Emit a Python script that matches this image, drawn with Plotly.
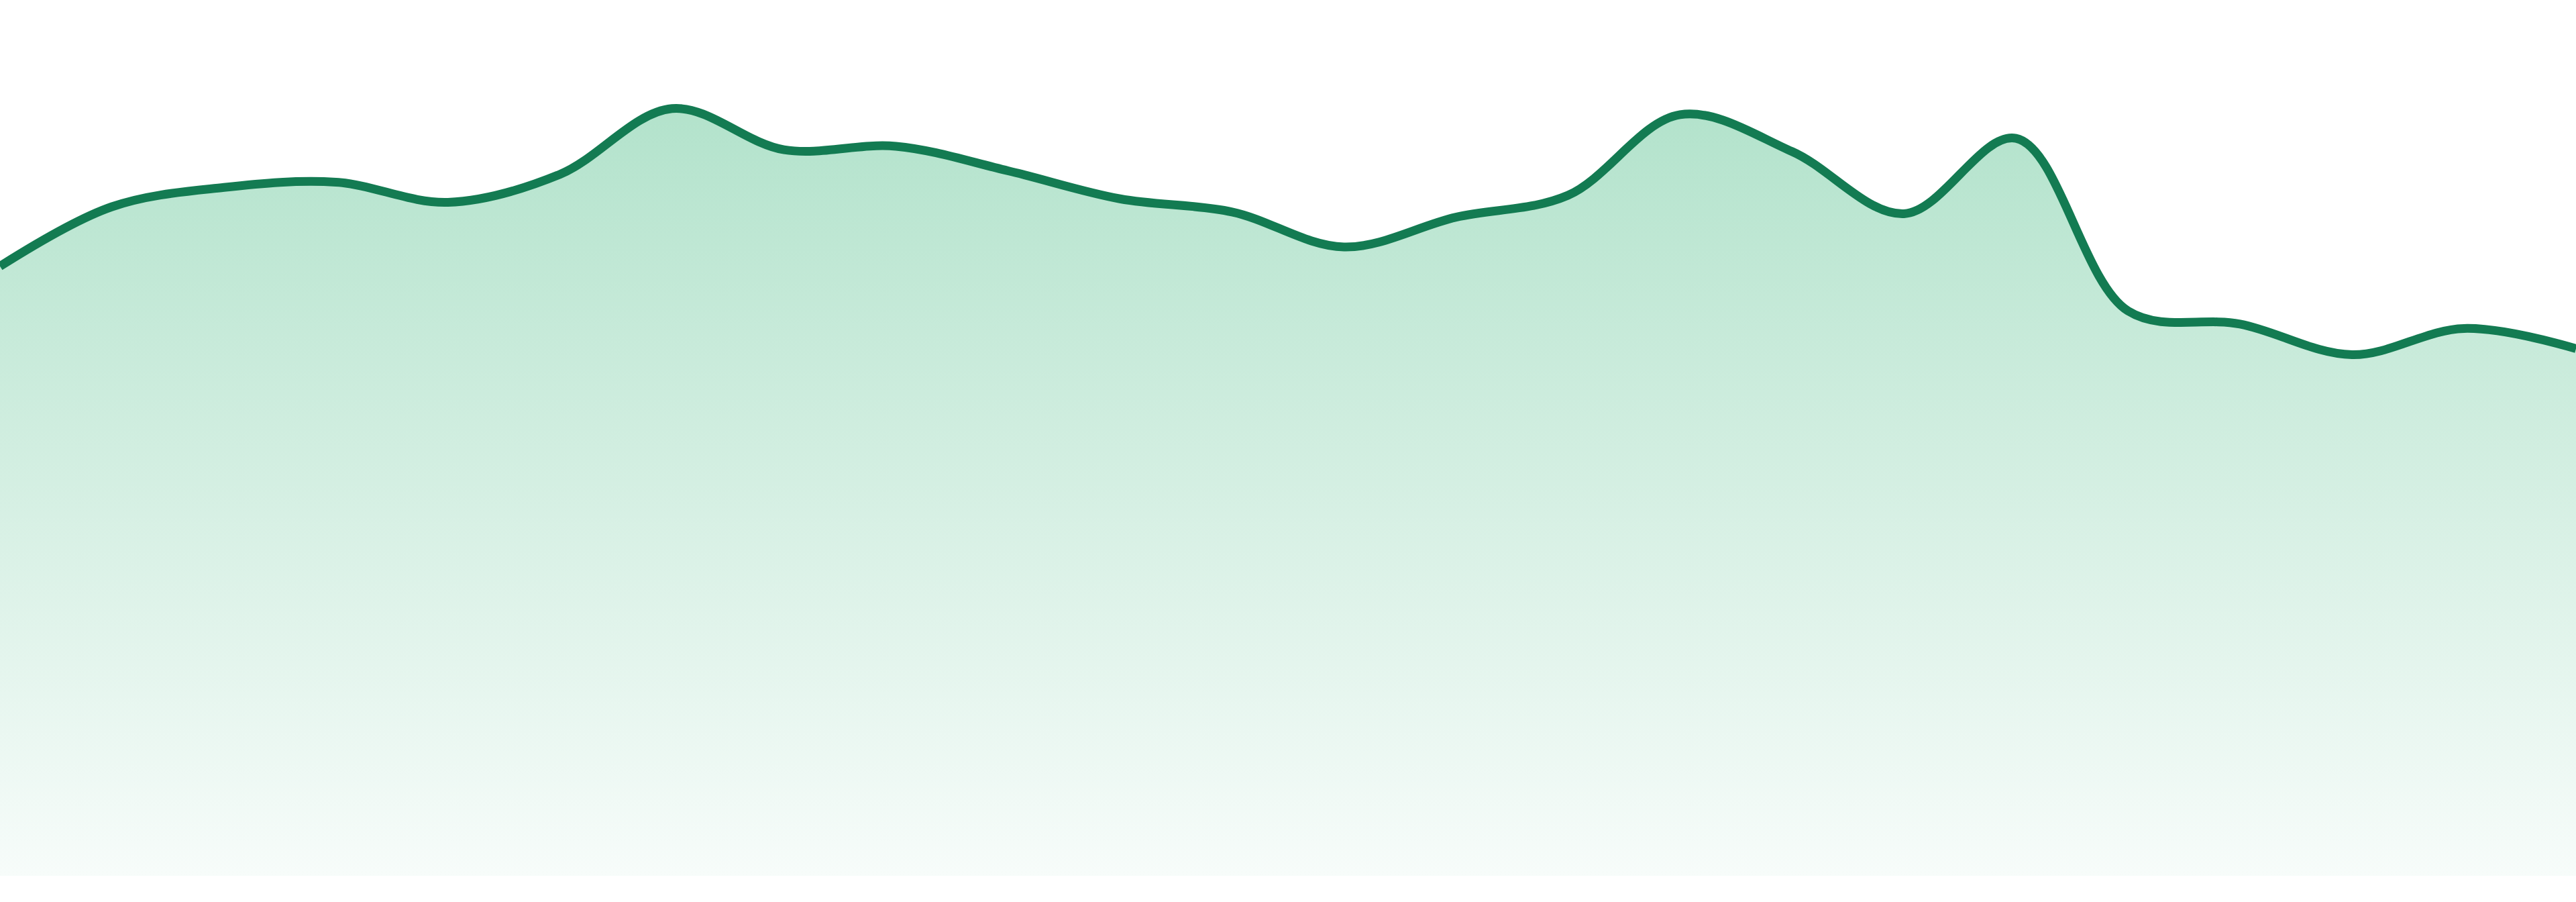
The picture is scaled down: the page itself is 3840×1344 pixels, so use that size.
import plotly.graph_objects as go

# index of each sample along the x axis
steps = list(range(24))
values = [69.6, 76.4, 78.6, 79.2, 76.9, 80.1, 87.6, 82.9, 83.3, 80.5, 77.3, 75.8,
          71.8, 75.2, 77.7, 86.9, 82.7, 75.6, 84.2, 64.5, 63.0, 59.5, 62.5, 60.2]

line_color = "#137b52"

trace = go.Scatter(
    x=steps,
    y=values,
    mode="lines",
    line=dict(color=line_color, width=13, shape="spline", smoothing=1.0),
    fill="tozeroy",
    fillgradient=dict(
        type="vertical",
        colorscale=[[0, "#f7fcfa"], [1, "#a9dfc5"]],
        start=0,
        stop=100,
    ),
    hoverinfo="skip",
    showlegend=False,
)

layout = go.Layout(
    width=3840,
    height=1344,
    margin=dict(l=0, r=0, t=0, b=39),
    paper_bgcolor="white",
    plot_bgcolor="white",
    xaxis=dict(range=[0, 23], visible=False, showgrid=False, zeroline=False),
    yaxis=dict(range=[0, 100], visible=False, showgrid=False, zeroline=False),
)

fig = go.Figure(data=[trace], layout=layout)
# drop the default page margin so the chart sits flush in the window
fig.write_html(
    "out.html",
    config={"displayModeBar": False},
    post_script="document.body.style.margin='0';",
)
